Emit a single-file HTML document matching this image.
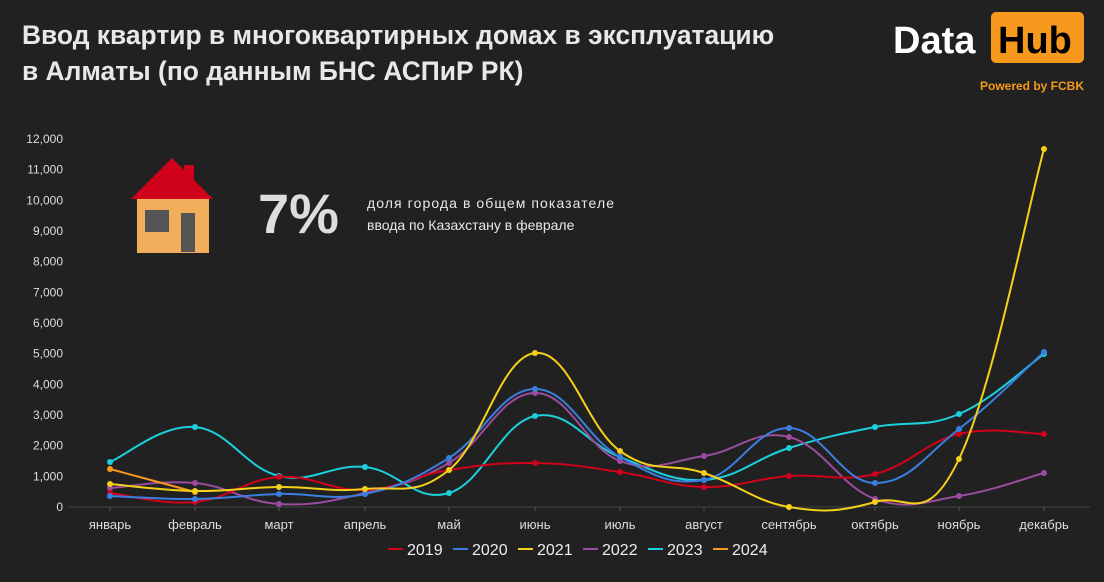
<!DOCTYPE html>
<html><head><meta charset="utf-8"><style>
body{margin:0;background:#212121;width:1104px;height:577px;overflow:hidden;font-family:"Liberation Sans",sans-serif;}
</style></head><body>
<svg id="s" width="1104" height="577" xmlns="http://www.w3.org/2000/svg">
<rect width="1104" height="577" fill="#212121"/>
<text x="22" y="44" fill="#e8e8e8" font-size="26.4" font-weight="bold">Ввод квартир в многоквартирных домах в эксплуатацию</text>
<text x="22" y="80" fill="#e8e8e8" font-size="26.4" font-weight="bold">в Алматы (по данным БНС АСПиР РК)</text>
<text x="893" y="53" fill="#fff" font-size="38" font-weight="bold">Data</text>
<rect x="991" y="12" width="93" height="51" rx="5" fill="#f7991c"/>
<text x="998" y="53" fill="#000" font-size="38" font-weight="bold">Hub</text>
<text x="1084" y="90" fill="#f7991c" font-size="12" font-weight="bold" text-anchor="end">Powered by FCBK</text>
<rect x="184" y="165" width="10" height="22" fill="#d0021b"/>
<polygon points="131,199 172,158 213,199" fill="#d0021b"/>
<rect x="137" y="199" width="72" height="54" fill="#f2ad5a"/>
<rect x="145" y="210" width="24" height="22" fill="#555"/>
<rect x="181" y="213" width="14" height="39" fill="#555"/>
<text x="258" y="233" fill="#ddd" font-size="56" font-weight="bold">7%</text>
<text x="367" y="208" fill="#e8e8e8" font-size="14" textLength="247" lengthAdjust="spacing">доля города в общем показателе</text>
<text x="367" y="230" fill="#e8e8e8" font-size="14">ввода по Казахстану в феврале</text>
<g id="g"></g>
</svg>
<script>
var g=document.getElementById('g'),h='';
var y0=507,k=368/12000;
for(var i=0;i<=12;i++){var y=y0-i*1000*k;h+='<text x="63" y="'+(y+4)+'" fill="#ddd" font-size="12" text-anchor="end">'+(i==0?'0':(i*1000).toLocaleString('en-US'))+'</text>';}
h+='<line x1="68" y1="507" x2="1090" y2="507" stroke="#444"/>';
var X=[110,195,279,365,449,535,620,704,789,875,959,1044];
var M=['январь','февраль','март','апрель','май','июнь','июль','август','сентябрь','октябрь','ноябрь','декабрь'];
for(i=0;i<12;i++){h+='<line x1="'+X[i]+'" y1="507" x2="'+X[i]+'" y2="511" stroke="#555"/><text x="'+X[i]+'" y="529" fill="#ddd" font-size="13" text-anchor="middle">'+M[i]+'</text>';}
var S=[
['2023','#1ccfdc',[462,427,476,467,493,416,457,480,448,427,414,354]],
['2022','#9b4c9e',[488,483,504,493,463,393,461,456,437,499,496,473]],
['2019','#d0021b',[493,502,477,490,470,463,472,487,476,474,434,434]],
['2020','#3a7fe0',[496,499,494,494,458,389,457,480,428,483,429,352]],
['2024','#f7991c',[469,492]],
['2021','#f5d01a',[484,491,487,489,470,353,451,473,507,502,459,149]]];
S.forEach(function(s){var P=s[2],d='M'+X[0]+','+P[0];
for(var i=0;i<P.length-1;i++){var p0=i>0?[X[i-1],P[i-1]]:[X[i],P[i]],p1=[X[i],P[i]],p2=[X[i+1],P[i+1]],p3=i+2<P.length?[X[i+2],P[i+2]]:p2;var t=0.2;
d+=' C'+(p1[0]+(p2[0]-p0[0])*t)+','+(p1[1]+(p2[1]-p0[1])*t)+' '+(p2[0]-(p3[0]-p1[0])*t)+','+(p2[1]-(p3[1]-p1[1])*t)+' '+p2[0]+','+p2[1];}
h+='<path d="'+d+'" fill="none" stroke="'+s[1]+'" stroke-width="2"/>';
P.forEach(function(v,i){h+='<circle cx="'+X[i]+'" cy="'+v+'" r="3" fill="'+s[1]+'"/>';});});
var L=[['2019','#d0021b',388],['2020','#3a7fe0',453],['2021','#f5d01a',518],['2022','#9b4c9e',583],['2023','#1ccfdc',648],['2024','#f7991c',713]];
L.forEach(function(l){h+='<line x1="'+l[2]+'" y1="549" x2="'+(l[2]+15)+'" y2="549" stroke="'+l[1]+'" stroke-width="2"/><text x="'+(l[2]+19)+'" y="555" fill="#eee" font-size="16">'+l[0]+'</text>';});
g.innerHTML=h;
</script>
</body></html>
